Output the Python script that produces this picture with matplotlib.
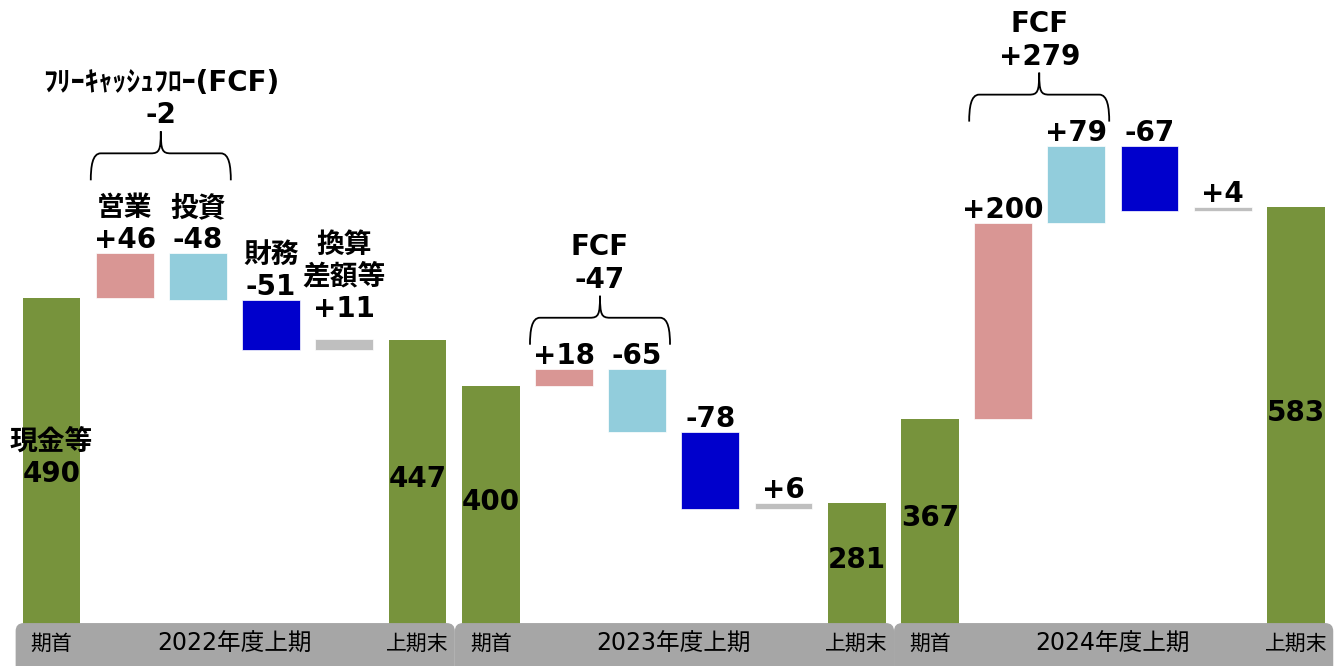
import matplotlib.pyplot as plt
from matplotlib.patches import FancyBboxPatch, PathPatch
from matplotlib.path import Path

# data (億円)
periods = ['2022年度上期', '2023年度上期', '2024年度上期']
opening = [490, 400, 367]
closing = [447, 281, 583]
flows = [[46, -48, -51, 11],
         [18, -65, -78, 6],
         [200, 79, -67, 4]]
fcf = [-2, -47, 279]
flow_names = ['営業', '投資', '財務', '換算\n差額等']
fcf_titles = ['ﾌﾘｰｷｬｯｼｭﾌﾛｰ(FCF)', 'FCF', 'FCF']
opening_tick = '期首'
closing_tick = '上期末'
total_name = '現金等'

# styles
total_color = '#77933C'
flow_colors = ['#D99694', '#92CDDC', '#0000CC', '#BFBFBF']
band_color = '#A6A6A6'

plt.rcParams['font.family'] = ['DejaVu Sans', 'Noto Sans CJK JP']

W, H, DPI = 13.36, 6.66, 100
fig = plt.figure(figsize=(W, H), dpi=DPI)
ax = fig.add_axes([0, 0, 1, 1])
ax.axis('off')

step = 73.2      # px per bar slot
first_x = 51.5   # px of first bar centre
floor = 157      # value at the top of the grey band
ppu = 0.98       # px per unit on y
ax.set_xlim(-first_x / step, (W * DPI - first_x) / step)
ax.set_ylim(floor - 42 / ppu, floor + 625 / ppu)


def px_x(p):
    return p / step


def px_y(p):
    return p / ppu


bar_w = 0.79
fs = 20
label_kw = dict(ha='center', va='bottom', fontsize=fs, fontweight='bold',
                linespacing=1.2, textcoords='offset points')

for g in range(3):
    base = g * 6

    # opening bar
    ax.bar(base, opening[g], width=bar_w, color=total_color, zorder=2)
    txt = f'{opening[g]}'
    if g == 0:
        txt = total_name + '\n' + txt
    ax.text(base, (floor + opening[g]) / 2 + px_y(3), txt, ha='center', va='center',
            fontsize=fs, fontweight='bold', linespacing=1.2, zorder=4)

    running = opening[g]
    tops = []
    for k, d in enumerate(flows[g]):
        lo, hi = sorted([running, running + d])
        ax.bar(base + 1 + k, hi - lo, bottom=lo, width=bar_w,
               color=flow_colors[k], edgecolor='white', linewidth=0.5, zorder=2)
        txt = f'{d:+d}'
        if g == 0:
            txt = flow_names[k] + '\n' + txt
        pad = 16 if (g == 0 and k == 3) else -1
        ax.annotate(txt, (base + 1 + k, hi), xytext=(0, pad * 0.72), **label_kw)
        tops.append(hi)
        running += d

    # closing bar
    ax.bar(base + 5, closing[g], width=bar_w, color=total_color, zorder=2)
    ax.text(base + 5, (floor + closing[g]) / 2 + px_y(3), f'{closing[g]}', ha='center',
            va='center', fontsize=fs, fontweight='bold', zorder=4)

    # brace over operating + investing
    top = max(tops[0], tops[1])
    gap = 73 if g == 0 else 24
    xl = base + 1 - bar_w / 2 - px_x(5)
    xr = base + 2 + bar_w / 2 + px_x(4)
    xc = (xl + xr) / 2
    ye = top + px_y(gap)
    yh = ye + px_y(27)
    yp = yh + px_y(22)
    rx = px_x(10)
    verts = [(xl, ye), (xl, (ye + yh) / 2), (xl + rx * 0.15, yh), (xl + rx, yh),
             (xc - rx, yh),
             (xc - rx * 0.15, yh), (xc, yh + px_y(3)), (xc, yp),
             (xc, yh + px_y(3)), (xc + rx * 0.15, yh), (xc + rx, yh),
             (xr - rx, yh),
             (xr - rx * 0.15, yh), (xr, (ye + yh) / 2), (xr, ye)]
    codes = [Path.MOVETO, Path.CURVE4, Path.CURVE4, Path.CURVE4,
             Path.LINETO,
             Path.CURVE4, Path.CURVE4, Path.CURVE4,
             Path.CURVE4, Path.CURVE4, Path.CURVE4,
             Path.LINETO,
             Path.CURVE4, Path.CURVE4, Path.CURVE4]
    ax.add_patch(PathPatch(Path(verts, codes), fill=False, lw=1.3, color='black', zorder=3))
    ax.annotate(fcf_titles[g] + '\n' + f'{fcf[g]:+d}', (xc, yp), xytext=(0, 2 * 0.72),
                **label_kw)

    # grey period band
    band = FancyBboxPatch((base - 0.49, floor - px_y(200)), 5 + 0.49 + 0.51, px_y(201),
                          boxstyle='round,pad=0,rounding_size=0.11',
                          mutation_aspect=step / ppu,
                          facecolor=band_color, edgecolor='none', zorder=5)
    ax.add_patch(band)
    ymid = floor - px_y(20)
    ax.text(base, ymid, opening_tick, ha='center', va='center', fontsize=15, zorder=6)
    ax.text(base + 2.5, ymid, periods[g], ha='center', va='center', fontsize=17, zorder=6)
    ax.text(base + 5, ymid, closing_tick, ha='center', va='center', fontsize=15, zorder=6)

fig.savefig('out.png', dpi=DPI)
